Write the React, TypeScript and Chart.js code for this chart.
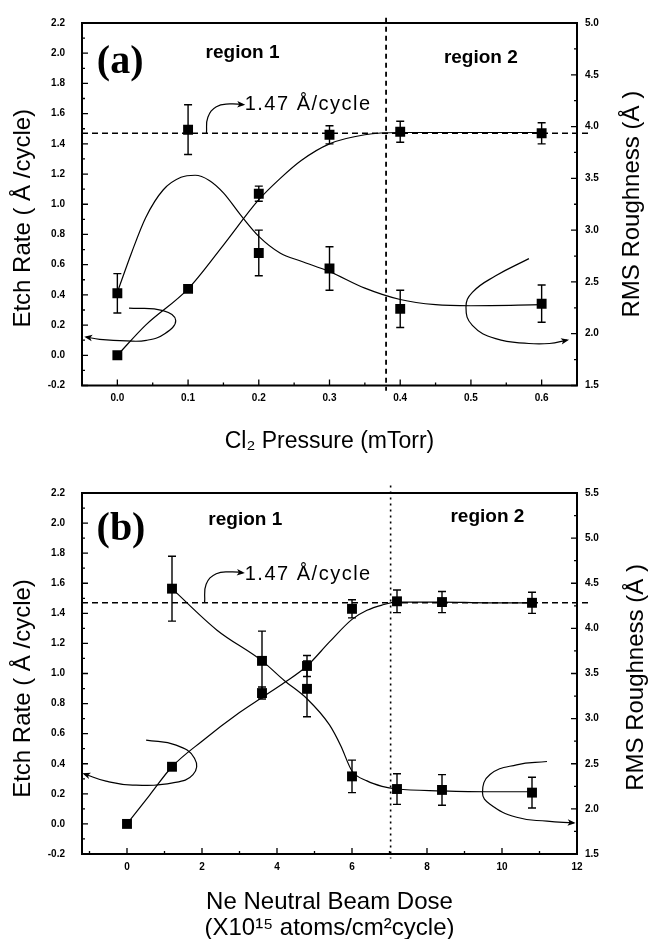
import React, { useEffect, useRef } from "react";
import { Chart, registerables } from "chart.js";

Chart.register(...registerables);

const SANS = '"Liberation Sans", Arial, Helvetica, sans-serif';
const SERIF = '"Liberation Serif", "Times New Roman", serif';

// ================= Panel (a): Cl2 pressure =================
const cl2Pressure = [0.0, 0.1, 0.2, 0.3, 0.4, 0.6];
const etchRateA = [0.0, 0.44, 1.07, 1.46, 1.48, 1.47];
const etchErrA = [0, 0, 0.05, 0.06, 0.07, 0.07];
const roughnessA = [2.39, 3.97, 2.78, 2.63, 2.24, 2.29];
const roughErrA = [0.19, 0.24, 0.22, 0.21, 0.18, 0.18];

const etchFitXA = [0, 0.04, 0.1, 0.15, 0.2, 0.23, 0.26, 0.3, 0.35, 0.4, 0.5, 0.6];
const etchFitYA = [0, 0.2, 0.44, 0.73, 1.03, 1.17, 1.29, 1.4, 1.46, 1.475, 1.475, 1.475];
const roughFitXA = [0, 0.02, 0.04, 0.065, 0.09, 0.11, 0.13, 0.15, 0.175, 0.2, 0.23, 0.26, 0.3, 0.35, 0.4, 0.45, 0.5, 0.6];
const roughFitYA = [2.4, 2.78, 3.12, 3.39, 3.51, 3.53, 3.48, 3.36, 3.14, 2.94, 2.78, 2.7, 2.6, 2.44, 2.33, 2.28, 2.27, 2.28];

const arrowLeftA = [[0.0165, 0.312], [0.0646, 0.296], [0.0825, 0.231], [0.067, 0.143], [0.041, 0.099], [0.0127, 0.095], [-0.025, 0.106], [-0.044, 0.121]];
const arrowRightA = [[0.582, 0.64], [0.535, 0.526], [0.502, 0.417], [0.493, 0.318], [0.502, 0.198], [0.535, 0.11], [0.582, 0.078], [0.611, 0.078], [0.636, 0.1]];
const arrowLabelA = [[0.126, 1.471], [0.128, 1.576], [0.14, 1.646], [0.159, 1.664], [0.178, 1.66]];

const xTicksA = [0.0, 0.1, 0.2, 0.3, 0.4, 0.5, 0.6];
const xMinorA = [0.05, 0.15, 0.25, 0.35, 0.45, 0.55];
const roughTicksA = [1.5, 2.0, 2.5, 3.0, 3.5, 4.0, 4.5, 5.0];
const roughMinorA = [1.75, 2.25, 2.75, 3.25, 3.75, 4.25, 4.75];
const boundaryA = 0.38;

// ================= Panel (b): Ne neutral beam dose =================
const doseEtch = [0, 1.2, 3.6, 4.8, 6.0, 7.2, 8.4, 10.8];
const etchRateB = [0.0, 0.38, 0.87, 1.05, 1.43, 1.48, 1.475, 1.47];
const etchErrB = [0, 0, 0.04, 0.07, 0.06, 0.075, 0.07, 0.07];
const doseRough = [1.2, 3.6, 4.8, 6.0, 7.2, 8.4, 10.8];
const roughnessB = [4.44, 3.64, 3.33, 2.36, 2.22, 2.21, 2.18];
const roughErrB = [0.36, 0.33, 0.31, 0.18, 0.17, 0.17, 0.17];

const etchFitXB = [0, 0.6, 1.2, 2, 3, 3.6, 4.2, 4.8, 5.4, 6.0, 6.4, 6.8, 7.2, 8.4, 9.6, 10.8];
const etchFitYB = [0, 0.19, 0.38, 0.55, 0.74, 0.84, 0.94, 1.05, 1.21, 1.36, 1.42, 1.455, 1.475, 1.475, 1.47, 1.47];
const roughFitXB = [1.2, 2.4, 3.6, 4.2, 4.8, 5.4, 5.7, 6.0, 6.4, 6.8, 7.2, 8.4, 9.6, 10.8];
const roughFitYB = [4.44, 3.98, 3.64, 3.42, 3.22, 2.93, 2.7, 2.42, 2.31, 2.25, 2.22, 2.2, 2.19, 2.19];

const arrowLeftB = [[0.51, 0.557], [1.31, 0.524], [1.8, 0.437], [1.76, 0.328], [1.22, 0.273], [0.15, 0.258], [-0.56, 0.284], [-1.14, 0.332]];
const arrowRightB = [[11.2, 0.415], [10.39, 0.393], [9.68, 0.328], [9.48, 0.208], [9.68, 0.131], [10.39, 0.044], [11.2, 0.018], [11.91, 0.007]];
const arrowLabelB = [[2.07, 1.473], [2.11, 1.593], [2.38, 1.663], [2.78, 1.676], [3.09, 1.67]];

const xTicksB = [0, 2, 4, 6, 8, 10, 12];
const xMinorB = [-1, 1, 3, 5, 7, 9, 11];
const roughTicksB = [1.5, 2.0, 2.5, 3.0, 3.5, 4.0, 4.5, 5.0, 5.5];
const roughMinorB = [1.75, 2.25, 2.75, 3.25, 3.75, 4.25, 4.75, 5.25];
const boundaryB = 7.03;

// ================= shared =================
const etchTicks = [-0.2, 0.0, 0.2, 0.4, 0.6, 0.8, 1.0, 1.2, 1.4, 1.6, 1.8, 2.0, 2.2];
const etchMinor = [-0.1, 0.1, 0.3, 0.5, 0.7, 0.9, 1.1, 1.3, 1.5, 1.7, 1.9, 2.1];
const saturationRate = 1.47;

type Label = { text: string; x: number; y: number; font: string; align: CanvasTextAlign; spacing?: number };

type PanelSpec = {
  height: number;
  padTop: number;
  xAxisHeight: number;
  xMin: number; xMax: number; xTicks: number[]; xMinor: number[]; xFmt: (v: number) => string;
  y1Min: number; y1Max: number; y1Ticks: number[]; y1Minor: number[];
  xTitle: string | string[]; xTitleSize: number; xTitleLH: number; xTitlePad: number;
  leftTitleX: number; leftTitleDy: number; rightTitleX: number; rightTitleDy: number;
  etchX: number[]; etch: number[]; etchErr: number[];
  roughX: number[]; rough: number[]; roughErr: number[];
  etchFitX: number[]; etchFitY: number[]; roughFitX: number[]; roughFitY: number[];
  hLineX: number[]; vLineX: number; vLineY: number[]; vDash: number[]; vWidth: number;
  arrows: number[][][];
  labels: Label[];
};

const panelA: PanelSpec = {
  height: 470, padTop: 20, xAxisHeight: 84.5,
  xMin: -0.05, xMax: 0.65, xTicks: xTicksA, xMinor: xMinorA, xFmt: (v) => v.toFixed(1),
  y1Min: 1.5, y1Max: 5.0, y1Ticks: roughTicksA, y1Minor: roughMinorA,
  xTitle: "Cl\u2082 Pressure (mTorr)", xTitleSize: 23, xTitleLH: 1.2, xTitlePad: 15,
  leftTitleX: 23, leftTitleDy: 14, rightTitleX: 632, rightTitleDy: 0,
  etchX: cl2Pressure, etch: etchRateA, etchErr: etchErrA,
  roughX: cl2Pressure, rough: roughnessA, roughErr: roughErrA,
  etchFitX: etchFitXA, etchFitY: etchFitYA, roughFitX: roughFitXA, roughFitY: roughFitYA,
  hLineX: [-0.05, 0.67], vLineX: boundaryA, vLineY: [2.235, -0.235], vDash: [5, 4], vWidth: 1.8,
  arrows: [arrowLeftA, arrowRightA, arrowLabelA],
  labels: [
    { text: "(a)", x: 0.004, y: 1.94, font: `bold 40px ${SERIF}`, align: "center" },
    { text: "region 1", x: 0.177, y: 2.0, font: `bold 19px ${SANS}`, align: "center" },
    { text: "region 2", x: 0.514, y: 1.97, font: `bold 19px ${SANS}`, align: "center" },
    { text: "1.47 \u00C5/cycle", x: 0.18, y: 1.66, font: `20px ${SANS}`, align: "left", spacing: 1.5 },
  ],
};

const panelB: PanelSpec = {
  height: 469, padTop: 18, xAxisHeight: 85,
  xMin: -1.2, xMax: 12, xTicks: xTicksB, xMinor: xMinorB, xFmt: (v) => String(Math.round(v)),
  y1Min: 1.5, y1Max: 5.5, y1Ticks: roughTicksB, y1Minor: roughMinorB,
  xTitle: ["Ne Neutral Beam Dose", "(X10\u00B9\u2075 atoms/cm\u00B2cycle)"], xTitleSize: 24, xTitleLH: 1.1, xTitlePad: -3,
  leftTitleX: 23, leftTitleDy: 15, rightTitleX: 636, rightTitleDy: 4,
  etchX: doseEtch, etch: etchRateB, etchErr: etchErrB,
  roughX: doseRough, rough: roughnessB, roughErr: roughErrB,
  etchFitX: etchFitXB, etchFitY: etchFitYB, roughFitX: roughFitXB, roughFitY: roughFitYB,
  hLineX: [-1.2, 12.36], vLineX: boundaryB, vLineY: [2.25, -0.23], vDash: [2, 4], vWidth: 1.6,
  arrows: [arrowLeftB, arrowRightB, arrowLabelB],
  labels: [
    { text: "(b)", x: -0.16, y: 1.955, font: `bold 40px ${SERIF}`, align: "center" },
    { text: "region 1", x: 3.155, y: 2.02, font: `bold 19px ${SANS}`, align: "center" },
    { text: "region 2", x: 9.61, y: 2.04, font: `bold 19px ${SANS}`, align: "center" },
    { text: "1.47 \u00C5/cycle", x: 3.14, y: 1.66, font: `20px ${SANS}`, align: "left", spacing: 1.5 },
  ],
};

const ARROW_START = 4;

function makeDecor(s: PanelSpec) {
  return {
    id: "decor",
    beforeDatasetsDraw(chart: any) {
      const ctx: CanvasRenderingContext2D = chart.ctx;
      const xs = chart.scales.x;
      const groups = [
        { x: s.etchX, y: s.etch, err: s.etchErr, sc: chart.scales.y },
        { x: s.roughX, y: s.rough, err: s.roughErr, sc: chart.scales.y1 },
      ];
      ctx.save();
      ctx.strokeStyle = "#000";
      ctx.lineWidth = 1.4;
      for (const g of groups) {
        g.x.forEach((xv, i) => {
          const e = g.err[i];
          if (!e) return;
          const px = xs.getPixelForValue(xv);
          const p1 = g.sc.getPixelForValue(g.y[i] + e);
          const p2 = g.sc.getPixelForValue(g.y[i] - e);
          ctx.beginPath();
          ctx.moveTo(px, p1); ctx.lineTo(px, p2);
          ctx.moveTo(px - 4, p1); ctx.lineTo(px + 4, p1);
          ctx.moveTo(px - 4, p2); ctx.lineTo(px + 4, p2);
          ctx.stroke();
        });
      }
      ctx.restore();
    },
    afterDatasetsDraw(chart: any) {
      const ctx: CanvasRenderingContext2D = chart.ctx;
      const { left, right, top, bottom } = chart.chartArea;
      const xs = chart.scales.x, ys = chart.scales.y, y1 = chart.scales.y1;
      ctx.save();
      // frame
      ctx.strokeStyle = "#000";
      ctx.lineWidth = 2;
      ctx.strokeRect(left, top, right - left, bottom - top);
      // inward ticks
      ctx.lineWidth = 1.3;
      ctx.beginPath();
      xs.ticks.forEach((t: any) => { const p = xs.getPixelForValue(t.value); ctx.moveTo(p, bottom); ctx.lineTo(p, bottom - 6); });
      s.xMinor.forEach((v) => { const p = xs.getPixelForValue(v); ctx.moveTo(p, bottom); ctx.lineTo(p, bottom - 3); });
      ys.ticks.forEach((t: any) => { const p = ys.getPixelForValue(t.value); ctx.moveTo(left, p); ctx.lineTo(left + 6, p); });
      etchMinor.forEach((v) => { const p = ys.getPixelForValue(v); ctx.moveTo(left, p); ctx.lineTo(left + 3, p); });
      y1.ticks.forEach((t: any) => { const p = y1.getPixelForValue(t.value); ctx.moveTo(right, p); ctx.lineTo(right - 6, p); });
      s.y1Minor.forEach((v) => { const p = y1.getPixelForValue(v); ctx.moveTo(right, p); ctx.lineTo(right - 3, p); });
      ctx.stroke();
      // arrow heads
      ctx.fillStyle = "#000";
      s.arrows.forEach((_, k) => {
        const meta = chart.getDatasetMeta(ARROW_START + k);
        const pts = meta.data;
        const last = pts[pts.length - 1];
        const prev = pts[pts.length - 2];
        let fx = last.cp1x, fy = last.cp1y;
        if (fx == null || (Math.abs(fx - last.x) < 0.5 && Math.abs(fy - last.y) < 0.5)) { fx = prev.x; fy = prev.y; }
        const ang = Math.atan2(last.y - fy, last.x - fx);
        ctx.save();
        ctx.translate(last.x, last.y);
        ctx.rotate(ang);
        ctx.beginPath();
        ctx.moveTo(2, 0); ctx.lineTo(-6, -3.2); ctx.lineTo(-4, 0); ctx.lineTo(-6, 3.2); ctx.closePath();
        ctx.fill();
        ctx.restore();
      });
      // text labels
      ctx.textBaseline = "middle";
      for (const l of s.labels) {
        ctx.font = l.font;
        ctx.textAlign = l.align;
        (ctx as any).letterSpacing = `${l.spacing || 0}px`;
        ctx.fillText(l.text, xs.getPixelForValue(l.x), ys.getPixelForValue(l.y));
      }
      (ctx as any).letterSpacing = "0px";
      // y axis titles (both read bottom-to-top)
      ctx.font = `24px ${SANS}`;
      ctx.textAlign = "center";
      const cy = (top + bottom) / 2;
      ctx.save();
      ctx.translate(s.leftTitleX, cy + s.leftTitleDy);
      ctx.rotate(-Math.PI / 2);
      ctx.fillText("Etch Rate ( \u00C5 /cycle)", 0, 0);
      ctx.restore();
      ctx.save();
      ctx.translate(s.rightTitleX, cy + s.rightTitleDy);
      ctx.rotate(-Math.PI / 2);
      ctx.fillText("RMS Roughness (\u00C5 )", 0, 0);
      ctx.restore();
      ctx.restore();
    },
  };
}

function buildConfig(s: PanelSpec) {
  const pts = (xv: number[], yv: number[]) => xv.map((x, i) => ({ x, y: yv[i] }));
  const line = (data: any[], extra: any) => ({
    data, borderColor: "#000", backgroundColor: "#000", borderWidth: 1.2,
    pointRadius: 0, pointHoverRadius: 0, fill: false, yAxisID: "y", ...extra,
  });
  const datasets = [
    line([{ x: s.hLineX[0], y: saturationRate }, { x: s.hLineX[1], y: saturationRate }], { borderDash: [6, 4], borderWidth: 1.6, clip: false }),
    line([{ x: s.vLineX, y: s.vLineY[0] }, { x: s.vLineX, y: s.vLineY[1] }], { borderDash: s.vDash, borderWidth: s.vWidth, clip: false }),
    line(pts(s.etchFitX, s.etchFitY), { cubicInterpolationMode: "monotone" }),
    line(pts(s.roughFitX, s.roughFitY), { cubicInterpolationMode: "monotone", yAxisID: "y1" }),
    ...s.arrows.map((a) => line(a.map(([x, y]) => ({ x, y })), { tension: 0.45, clip: false })),
    line(pts(s.etchX, s.etch), { showLine: false, pointStyle: "rect", pointRadius: 7, borderWidth: 0 }),
    line(pts(s.roughX, s.rough), { showLine: false, pointStyle: "rect", pointRadius: 7, borderWidth: 0, yAxisID: "y1" }),
  ];
  const tickFont = { family: SANS, size: 10, weight: "bold" as const };
  return {
    type: "line",
    data: { datasets },
    options: {
      responsive: false,
      maintainAspectRatio: false,
      animation: false,
      devicePixelRatio: 1,
      layout: { padding: { top: s.padTop, left: 0, right: 0, bottom: 0 } },
      plugins: { legend: { display: false }, tooltip: { enabled: false } },
      elements: { line: { capBezierPoints: false } },
      scales: {
        x: {
          type: "linear", position: "bottom", min: s.xMin, max: s.xMax,
          afterBuildTicks: (sc: any) => { sc.ticks = s.xTicks.map((value) => ({ value })); },
          ticks: { callback: (v: any) => s.xFmt(Number(v)), font: tickFont, color: "#000", padding: 7, maxRotation: 0, autoSkip: false },
          grid: { display: false, drawTicks: false },
          border: { display: false },
          title: {
            display: true, text: s.xTitle, color: "#000",
            font: { family: SANS, size: s.xTitleSize, lineHeight: s.xTitleLH },
            padding: { top: 0, bottom: s.xTitlePad },
          },
          afterFit: (sc: any) => { sc.height = s.xAxisHeight; },
        },
        y: {
          type: "linear", position: "left", min: -0.2, max: 2.2,
          afterBuildTicks: (sc: any) => { sc.ticks = etchTicks.map((value) => ({ value })); },
          ticks: { callback: (v: any) => Number(v).toFixed(1), font: tickFont, color: "#000", padding: 17, autoSkip: false },
          grid: { display: false, drawTicks: false },
          border: { display: false },
          afterFit: (sc: any) => { sc.width = 82; },
        },
        y1: {
          type: "linear", position: "right", min: s.y1Min, max: s.y1Max,
          afterBuildTicks: (sc: any) => { sc.ticks = s.y1Ticks.map((value) => ({ value })); },
          ticks: { callback: (v: any) => Number(v).toFixed(1), font: tickFont, color: "#000", padding: 8, autoSkip: false },
          grid: { display: false, drawTicks: false },
          border: { display: false },
          afterFit: (sc: any) => { sc.width = 75; },
        },
      },
    },
    plugins: [makeDecor(s)],
  };
}

function ChartPanel({ spec, top }: { spec: PanelSpec; top: number }) {
  const ref = useRef<HTMLCanvasElement>(null);
  useEffect(() => {
    const chart = new Chart(ref.current as HTMLCanvasElement, buildConfig(spec) as any);
    return () => chart.destroy();
  }, [spec]);
  return (
    <canvas
      ref={ref}
      width={652}
      height={spec.height}
      style={{ position: "absolute", left: 0, top, width: 652, height: spec.height, display: "block" }}
    />
  );
}

export default function App() {
  return (
    <div style={{ position: "absolute", left: 0, top: 0, width: 652, height: 939, background: "#fff" }}>
      <ChartPanel spec={panelA} top={0} />
      <ChartPanel spec={panelB} top={470} />
    </div>
  );
}
